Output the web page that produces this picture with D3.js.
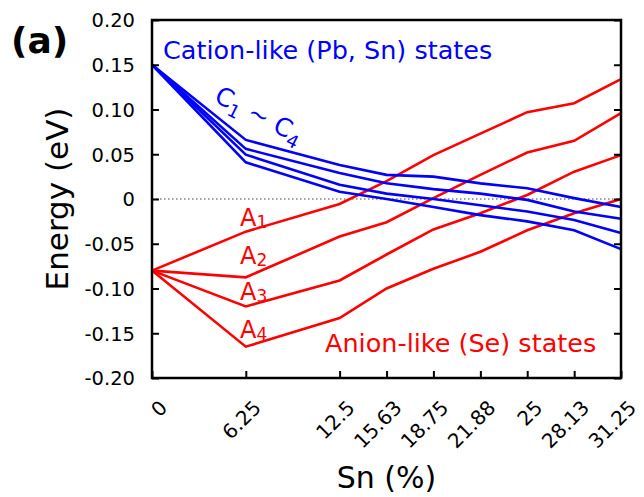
<!DOCTYPE html>
<html>
<head>
<meta charset="utf-8">
<script src="https://cdn.jsdelivr.net/npm/d3@7"></script>
<style>
body { margin: 0; background: #fff; }
text { font-family: "DejaVu Sans", sans-serif; }
</style>
</head>
<body>
<div id="chart"></div>
<script>
// Sn content (x) and tick labels
var snPercent = [0, 6.25, 12.5, 15.63, 18.75, 21.88, 25, 28.13, 31.25];
var xTickLabels = ["0", "6.25", "12.5", "15.63", "18.75", "21.88", "25", "28.13", "31.25"];
var yTicks = [-0.2, -0.15, -0.1, -0.05, 0, 0.05, 0.1, 0.15, 0.2];
var yTickLabels = ["-0.20", "-0.15", "-0.10", "-0.05", "0", "0.05", "0.10", "0.15", "0.20"];

// cation-like states C1..C4 (eV)
var cation1 = [0.15, 0.066, 0.038, 0.027, 0.025, 0.0175, 0.012, 0.001, -0.009];
var cation2 = [0.15, 0.056, 0.029, 0.0175, 0.011, 0.006, -0.001, -0.014, -0.022];
var cation3 = [0.15, 0.0495, 0.016, 0.006, 0.0, -0.007, -0.014, -0.0235, -0.038];
var cation4 = [0.15, 0.041, 0.008, 0.0, -0.009, -0.018, -0.025, -0.035, -0.056];

// anion-like states A1..A4 (eV)
var anion1 = [-0.08, -0.0365, -0.0056, 0.02, 0.049, 0.073, 0.097, 0.107, 0.134];
var anion2 = [-0.08, -0.0875, -0.042, -0.026, 0.001, 0.027, 0.052, 0.065, 0.096];
var anion3 = [-0.08, -0.12, -0.091, -0.062, -0.034, -0.016, 0.0045, 0.0305, 0.049];
var anion4 = [-0.08, -0.165, -0.133, -0.1, -0.078, -0.059, -0.035, -0.016, 0.0];

var cationSeries = [cation1, cation2, cation3, cation4];
var anionSeries = [anion1, anion2, anion3, anion4];

var width = 644, height = 497;
var plotLeft = 152, plotRight = 621, plotTop = 20, plotBottom = 378;

var svg = d3.select("#chart").append("svg")
  .attr("width", width)
  .attr("height", height);

var x = d3.scaleLinear().domain([0, 31.25]).range([plotLeft, plotRight]);
var y = d3.scaleLinear().domain([-0.2, 0.2]).range([plotBottom, plotTop]);

var line = d3.line()
  .x(function(d, i) { return x(snPercent[i]); })
  .y(function(d) { return y(d); });

// dotted zero line
svg.append("line")
  .attr("x1", plotLeft).attr("x2", plotRight)
  .attr("y1", y(0)).attr("y2", y(0))
  .attr("stroke", "#444")
  .attr("stroke-width", 1.2)
  .attr("stroke-dasharray", "1.5,2.5");

svg.selectAll("path.anion").data(anionSeries).enter().append("path")
  .attr("class", "anion")
  .attr("d", line)
  .attr("fill", "none")
  .attr("stroke", "#ff0000")
  .attr("stroke-width", 2.6);

svg.selectAll("path.cation").data(cationSeries).enter().append("path")
  .attr("class", "cation")
  .attr("d", line)
  .attr("fill", "none")
  .attr("stroke", "#0000ff")
  .attr("stroke-width", 2.6);

// axes: inward ticks
var xAxis = d3.axisBottom(x).tickValues(snPercent).tickSize(-7)
  .tickFormat(function(d, i) { return xTickLabels[i]; });
var gx = svg.append("g").attr("transform", "translate(0," + plotBottom + ")").call(xAxis);
gx.attr("font-family", null).attr("font-size", null);
gx.select(".domain").remove();
gx.selectAll("line").attr("stroke", "#000").attr("stroke-width", 2);
gx.selectAll("text")
  .attr("x", 0).attr("y", 0).attr("dy", "0.35em")
  .attr("text-anchor", "end")
  .attr("transform", "translate(11,26) rotate(-45)")
  .attr("fill", "#000")
  .style("font-size", "20px");

var yAxis = d3.axisLeft(y).tickValues(yTicks).tickSize(-7)
  .tickFormat(function(d, i) { return yTickLabels[i]; });
var gy = svg.append("g").attr("transform", "translate(" + plotLeft + ",0)").call(yAxis);
gy.attr("font-family", null).attr("font-size", null);
gy.select(".domain").remove();
gy.selectAll("line").attr("stroke", "#000").attr("stroke-width", 2);
gy.selectAll("text")
  .attr("x", -17).attr("dy", "0.35em")
  .attr("fill", "#000")
  .style("font-size", "19.5px");

var yAxisR = d3.axisRight(y).tickValues(yTicks).tickSize(-7).tickFormat("");
var gyr = svg.append("g").attr("transform", "translate(" + plotRight + ",0)").call(yAxisR);
gyr.select(".domain").remove();
gyr.selectAll("line").attr("stroke", "#000").attr("stroke-width", 2);

// frame
svg.append("rect")
  .attr("x", plotLeft).attr("y", plotTop)
  .attr("width", plotRight - plotLeft).attr("height", plotBottom - plotTop)
  .attr("fill", "none")
  .attr("stroke", "#000")
  .attr("stroke-width", 2.5);

// axis titles
svg.append("text")
  .attr("transform", "translate(68," + ((plotTop + plotBottom) / 2) + ") rotate(-90)")
  .attr("text-anchor", "middle")
  .style("font-size", "31px")
  .text("Energy (eV)");

svg.append("text")
  .attr("x", (plotLeft + plotRight) / 2).attr("y", 488)
  .attr("text-anchor", "middle")
  .style("font-size", "30px")
  .text("Sn (%)");

svg.append("text")
  .attr("x", 11).attr("y", 53)
  .style("font-size", "36px")
  .style("font-weight", "bold")
  .text("(a)");

// annotations
svg.append("text")
  .attr("x", 163).attr("y", 59)
  .attr("fill", "#0000ff")
  .style("font-size", "25.5px")
  .text("Cation-like (Pb, Sn) states");

svg.append("text")
  .attr("x", 325).attr("y", 352)
  .attr("fill", "#ff0000")
  .style("font-size", "25.5px")
  .text("Anion-like (Se) states");

var cLabel = svg.append("text")
  .attr("transform", "translate(213,101) rotate(27)")
  .attr("fill", "#0000ff")
  .style("font-size", "25px");
cLabel.append("tspan").text("C");
cLabel.append("tspan").attr("dy", 6).style("font-size", "18px").text("1");
cLabel.append("tspan").attr("dy", -6).text(" ~ C");
cLabel.append("tspan").attr("dy", 6).style("font-size", "18px").text("4");

var aBaselines = [226, 264, 300, 338];
aBaselines.forEach(function(b, i) {
  var t = svg.append("text")
    .attr("x", 240).attr("y", b)
    .attr("fill", "#ff0000")
    .style("font-size", "24px");
  t.append("tspan").text("A");
  t.append("tspan").attr("dy", 2).style("font-size", "17px").text(String(i + 1));
});
</script>
</body>
</html>
